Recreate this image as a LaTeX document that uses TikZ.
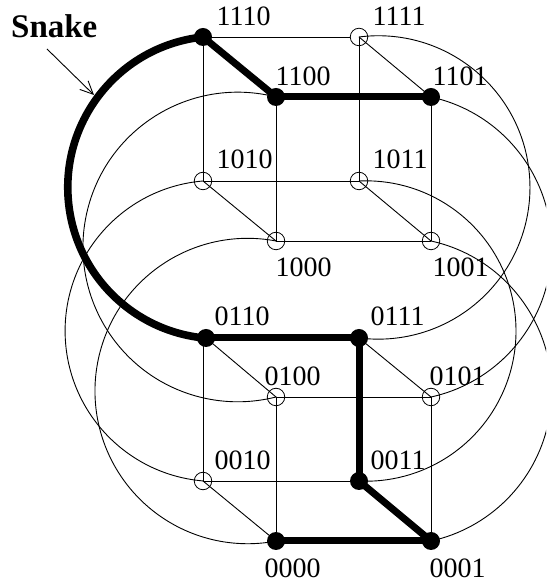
\documentclass[tikz,border=0pt]{standalone}
\usepackage{fontspec}
\setmainfont{Liberation Serif}
\usetikzlibrary{arrows.meta}
\tikzset{
  x=1pt,y=1pt,
  vopen/.style={circle,draw=black,line width=0.8pt,minimum size=17.5pt,inner sep=0pt},
  vfull/.style={circle,fill=black,minimum size=18pt,inner sep=0pt},
  thin edge/.style={line width=0.9pt},
  thick edge/.style={line width=7pt},
  lab/.style={anchor=base west,inner sep=0pt,font=\fontsize{28}{28}\selectfont},
  snakelab/.style={anchor=base west,inner sep=0pt,font=\fontsize{33}{33}\selectfont\bfseries},
}
\begin{document}
\begin{tikzpicture}
\useasboundingbox (0,0) rectangle (546,585);
\clip (0,0) rectangle (546,585);
% vertices
\node[vfull] (n1110) at (203,585-37) {};
\node[vopen] (n1111) at (359,585-37) {};
\node[vfull] (n1100) at (276,585-97) {};
\node[vfull] (n1101) at (431,585-97) {};
\node[vopen] (n1010) at (203,585-181) {};
\node[vopen] (n1011) at (359,585-181) {};
\node[vopen] (n1000) at (276,585-241) {};
\node[vopen] (n1001) at (431,585-241) {};
\node[vfull] (n0110) at (206,585-338) {};
\node[vfull] (n0111) at (359,585-338) {};
\node[vopen] (n0100) at (276,585-397) {};
\node[vopen] (n0101) at (431,585-397) {};
\node[vopen] (n0010) at (203,585-481) {};
\node[vfull] (n0011) at (359,585-481) {};
\node[vfull] (n0000) at (276,585-541) {};
\node[vfull] (n0001) at (431,585-541) {};
% labels
\node[lab] (l1110) at (216.5,585-26) {1110};
\node[lab] (l1111) at (372.5,585-26) {1111};
\node[lab] (l1100) at (275.5,585-86) {1100};
\node[lab] (l1101) at (432.5,585-86) {1101};
\node[lab] (l1010) at (216.5,585-169) {1010};
\node[lab] (l1011) at (372.5,585-169) {1011};
\node[lab] (l1000) at (275.5,585-277) {1000};
\node[lab] (l1001) at (432.5,585-277) {1001};
\node[lab] (l0110) at (214.5,585-326) {0110};
\node[lab] (l0111) at (370.5,585-326) {0111};
\node[lab] (l0100) at (264.5,585-386) {0100};
\node[lab] (l0101) at (429.5,585-386) {0101};
\node[lab] (l0010) at (214.5,585-470) {0010};
\node[lab] (l0011) at (370.5,585-470) {0011};
\node[lab] (l0000) at (264.5,585-578) {0000};
\node[lab] (l0001) at (429.5,585-578) {0001};
\node[snakelab] (snake) at (11,585-38) {Snake};
\coordinate (arrowstart) at (47,585-49);
\coordinate (arrowend) at (94,585-95);
\draw[thin edge,-{Straight Barb[length=13pt,width=12pt]}] (arrowstart) -- (arrowend);
% thin cube edges, upper
\draw[thin edge] (n1110) -- (n1111);
\draw[thin edge] (n1110.center) -- (n1010.center);
\draw[thin edge] (n1111.center) -- (n1101.center);
\draw[thin edge] (n1111.center) -- (n1011.center);
\draw[thin edge] (n1100.center) -- (n1000.center);
\draw[thin edge] (n1101.center) -- (n1001.center);
\draw[thin edge] (n1010.center) -- (n1011.center);
\draw[thin edge] (n1010.center) -- (n1000.center);
\draw[thin edge] (n1011.center) -- (n1001.center);
\draw[thin edge] (n1000.center) -- (n1001.center);
% thin cube edges, lower
\draw[thin edge] (n0110.center) -- (n0100.center);
\draw[thin edge] (n0111.center) -- (n0101.center);
\draw[thin edge] (n0100.center) -- (n0101.center);
\draw[thin edge] (n0100.center) -- (n0000.center);
\draw[thin edge] (n0101.center) -- (n0001.center);
\draw[thin edge] (n0010.center) -- (n0011.center);
\draw[thin edge] (n0010.center) -- (n0000.center);
\draw[thin edge] (n0010.center) -- (n0010.center |- n0110.center);
% thin wrap-around arcs
\draw[thin edge] (n1100.center) arc[start angle=75.7,end angle=284.3,radius=154.8] -- (n0100.center);
\draw[thin edge] (n1010.center) arc[start angle=94.8,end angle=265.2,radius=150.5] -- (n0010.center);
\draw[thin edge] (n1000.center) arc[start angle=79.3,end angle=280.7,radius=152.7] -- (n0000.center);
\draw[thin edge] (n1111.center) arc[start angle=97.3,end angle=-97.3,radius=151.7] -- (n0111.center);
\draw[thin edge] (n1011.center) arc[start angle=92.6,end angle=-92.6,radius=150.2] -- (n0011.center);
\draw[thin edge] (n1101.center) arc[start angle=77.6,end angle=-77.6,radius=153.6] -- (n0101.center);
\draw[thin edge] (n1001.center) arc[start angle=77.6,end angle=-77.6,radius=153.6] -- (n0001.center);
% snake
\draw[thick edge,line width=7.6pt,line join=round] (n1110.center) arc[start angle=96.1,end angle=265,radius=151.3] -- (n0110.center);
\draw[thick edge] (n1110.center) -- (n1100.center);
\draw[thick edge] (n1100.center) -- (n1101.center);
\draw[thick edge] (n0110.center) -- (n0111.center);
\draw[thick edge] (n0111.center) -- (n0011.center);
\draw[thick edge] (n0011.center) -- (n0001.center);
\draw[thick edge] (n0000.center) -- (n0001.center);
\end{tikzpicture}
\end{document}
